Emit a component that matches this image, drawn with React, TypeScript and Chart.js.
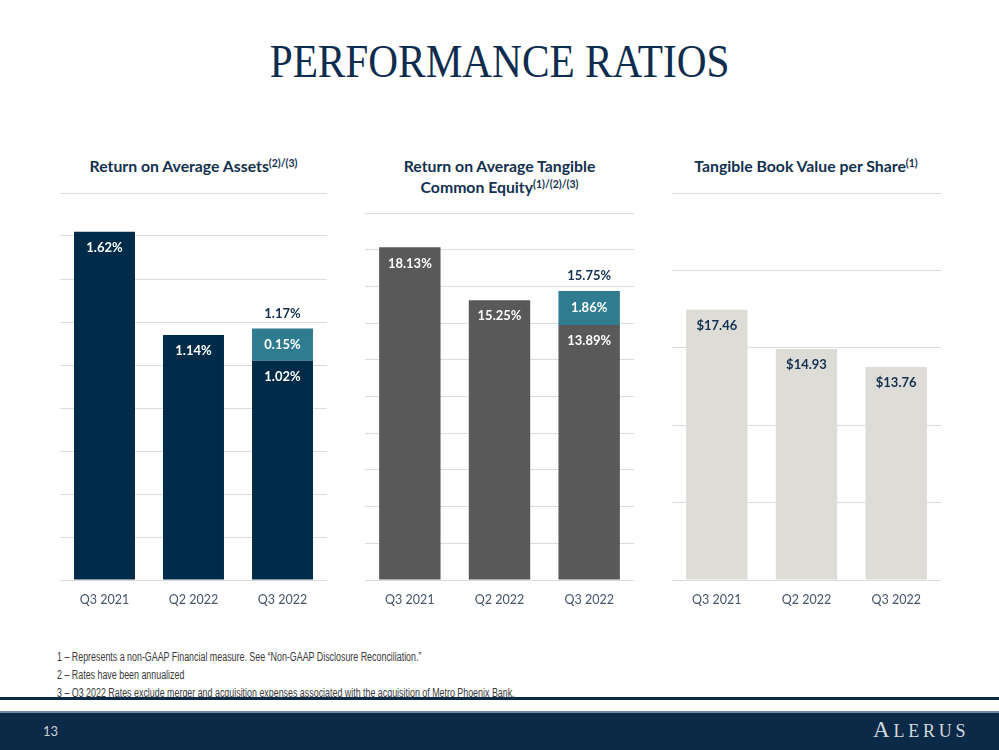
import React, { useEffect, useRef } from "react";
import { Chart, registerables } from "chart.js";

Chart.register(...registerables);

// ---------- DATA ----------
const categories = ["Q3 2021", "Q2 2022", "Q3 2022"];

const roaaBase = [1.62, 1.14, 1.02];
const roaaAdjustment = [0, 0, 0.15];
const roaaTotal = [null, null, 1.17];
const roaaAxis = { max: 1.8, step: 0.2 };

const rotceBase = [18.13, 15.25, 13.89];
const rotceAdjustment = [0, 0, 1.86];
const rotceTotal = [null, null, 15.75];
const rotceAxis = { max: 20, step: 2 };

const tbvps = [17.46, 14.93, 13.76];
const tbvpsAxis = { max: 25, step: 5 };

const footnotes = [
  "1 \u2013 Represents a non-GAAP Financial measure. See \u201cNon-GAAP Disclosure Reconciliation.\u201d",
  "2 \u2013 Rates have been annualized",
  "3 \u2013 Q3 2022 Rates exclude merger and acquisition expenses associated with the acquisition of Metro Phoenix Bank.",
];

// ---------- STYLE ----------
const NAVY = "#002B49";
const TEAL = "#2F7C91";
const GRAY = "#595959";
const LIGHT = "#DDDCD7";
const TITLE_COLOR = "#12304F";
const BASELINE_Y = 580;

const pct = (v: number) => v.toFixed(2) + "%";
const usd = (v: number) => "$" + v.toFixed(2);

function makeLabelPlugin(fmt: (v: number) => string, totals: (number | null)[] | null) {
  return {
    id: "valueLabels",
    afterDatasetsDraw(chart: any) {
      const ctx = chart.ctx;
      chart.data.datasets.forEach((ds: any, di: number) => {
        const meta = chart.getDatasetMeta(di);
        meta.data.forEach((el: any, i: number) => {
          const v = ds.data[i];
          if (!v) return;
          ctx.save();
          ctx.font = "bold 13px Lato";
          ctx.fillStyle = ds.labelColor;
          ctx.textAlign = "center";
          ctx.textBaseline = "middle";
          const y = ds.labelMode === "center" ? (el.y + el.base) / 2 : el.y + 16;
          ctx.fillText(fmt(v), el.x, y);
          ctx.restore();
        });
      });
      if (totals) {
        const lastMeta = chart.getDatasetMeta(chart.data.datasets.length - 1);
        totals.forEach((t, i) => {
          if (t == null) return;
          const el = lastMeta.data[i];
          ctx.save();
          ctx.font = "bold 13px Lato";
          ctx.fillStyle = TITLE_COLOR;
          ctx.textAlign = "center";
          ctx.textBaseline = "middle";
          ctx.fillText(fmt(t), el.x, el.y - 15);
          ctx.restore();
        });
      }
    },
  };
}

type PanelProps = {
  left: number;
  gridTop: number;
  width: number;
  axis: { max: number; step: number };
  datasets: any[];
  totals: (number | null)[] | null;
  fmt: (v: number) => string;
};

function BarPanel({ left, gridTop, width, axis, datasets, totals, fmt }: PanelProps) {
  const ref = useRef<HTMLCanvasElement>(null);
  const top = gridTop - 2;
  const height = BASELINE_Y - top + 39;
  useEffect(() => {
    if (!ref.current) return;
    const chart = new Chart(ref.current, {
      type: "bar",
      data: { labels: categories, datasets },
      options: {
        animation: false,
        responsive: false,
        maintainAspectRatio: false,
        layout: { padding: { top: 2, left: 0, right: 0, bottom: 0 } },
        plugins: {
          legend: { display: false },
          tooltip: { enabled: false },
        },
        scales: {
          x: {
            stacked: true,
            grid: { display: false, drawTicks: false },
            border: { display: false },
            ticks: { color: "#44546A", font: { family: "Lato", size: 12.5 }, padding: 12 },
          },
          y: {
            stacked: true,
            min: 0,
            max: axis.max,
            ticks: { display: false, stepSize: axis.step },
            grid: { color: "#DCDCDC", drawTicks: false, lineWidth: 1 },
            border: { display: false },
          },
        },
      } as any,
      plugins: [makeLabelPlugin(fmt, totals)],
    });
    return () => chart.destroy();
  }, []);
  return (
    <canvas
      ref={ref}
      width={width}
      height={height}
      style={{ position: "absolute", left, top, width, height }}
    />
  );
}

const sup: React.CSSProperties = { fontSize: 10.5, position: "relative", top: -5, lineHeight: 0 };

function PanelTitle({ center, top, children }: { center: number; top: number; children: React.ReactNode }) {
  return (
    <div
      style={{
        position: "absolute",
        left: center - 150,
        width: 300,
        top,
        textAlign: "center",
        fontFamily: "Lato",
        fontWeight: 700,
        fontSize: 15.8,
        lineHeight: "21px",
        color: TITLE_COLOR,
      }}
    >
      {children}
    </div>
  );
}

const barCommon = { barPercentage: 0.685, categoryPercentage: 1.0 };

export default function App() {
  const roaaSets = [
    { ...barCommon, data: roaaBase, backgroundColor: NAVY, labelColor: "#FFFFFF", labelMode: "top" },
    { ...barCommon, data: roaaAdjustment, backgroundColor: TEAL, labelColor: "#FFFFFF", labelMode: "center" },
  ];
  const rotceSets = [
    { ...barCommon, data: rotceBase, backgroundColor: GRAY, labelColor: "#FFFFFF", labelMode: "top" },
    { ...barCommon, data: rotceAdjustment, backgroundColor: TEAL, labelColor: "#FFFFFF", labelMode: "center" },
  ];
  const tbvSets = [
    { ...barCommon, data: tbvps, backgroundColor: LIGHT, labelColor: TITLE_COLOR, labelMode: "top" },
  ];

  return (
    <div
      style={{
        position: "absolute",
        left: 0,
        top: 0,
        width: 999,
        height: 750,
        overflow: "hidden",
        background: "#FFFFFF",
      }}
    >
      <div
        style={{
          position: "absolute",
          left: 0,
          width: 999,
          top: 34,
          textAlign: "center",
          fontFamily: "Liberation Serif",
          fontSize: 46,
          lineHeight: "56px",
          color: "#0E2C4E",
          transform: "scaleX(0.897)",
          transformOrigin: "500px 0",
        }}
      >
        PERFORMANCE RATIOS
      </div>

      <PanelTitle center={193.5} top={155}>
        Return on Average Assets<span style={sup}>(2)/(3)</span>
      </PanelTitle>
      <PanelTitle center={499.5} top={155}>
        Return on Average Tangible
        <br />
        Common Equity<span style={sup}>(1)/(2)/(3)</span>
      </PanelTitle>
      <PanelTitle center={806} top={155}>
        Tangible Book Value per Share<span style={sup}>(1)</span>
      </PanelTitle>

      <BarPanel left={60} gridTop={193} width={267} axis={roaaAxis} datasets={roaaSets} totals={roaaTotal} fmt={pct} />
      <BarPanel left={365} gridTop={213} width={269} axis={rotceAxis} datasets={rotceSets} totals={rotceTotal} fmt={pct} />
      <BarPanel left={672} gridTop={193} width={269} axis={tbvpsAxis} datasets={tbvSets} totals={null} fmt={usd} />

      <div
        style={{
          position: "absolute",
          left: 57,
          top: 648,
          fontFamily: "'Liberation Sans', Arial, sans-serif",
          fontSize: 12,
          lineHeight: "18px",
          color: "#3A3A3A",
          whiteSpace: "nowrap",
          transform: "scaleX(0.74)",
          transformOrigin: "0 0",
        }}
      >
        {footnotes.map((f, i) => (
          <div key={i}>{f}</div>
        ))}
      </div>

      <div style={{ position: "absolute", left: 0, top: 697, width: 999, height: 3, background: "#0B2A48" }} />
      <div style={{ position: "absolute", left: 0, top: 711, width: 999, height: 2, background: "#6F8AA3" }} />
      <div style={{ position: "absolute", left: 0, top: 713, width: 999, height: 37, background: "#0B2A48" }} />
      <div
        style={{
          position: "absolute",
          left: 43,
          top: 722,
          fontFamily: "Lato",
          fontSize: 13,
          lineHeight: "18px",
          color: "#C9D1D9",
        }}
      >
        13
      </div>
      <div
        style={{
          position: "absolute",
          left: 873,
          top: 716,
          fontFamily: "Liberation Serif",
          color: "#D3D8DD",
          letterSpacing: 3.8,
          lineHeight: "28px",
          whiteSpace: "nowrap",
        }}
      >
        <span style={{ fontSize: 23 }}>A</span>
        <span style={{ fontSize: 18 }}>LERUS</span>
      </div>
    </div>
  );
}
